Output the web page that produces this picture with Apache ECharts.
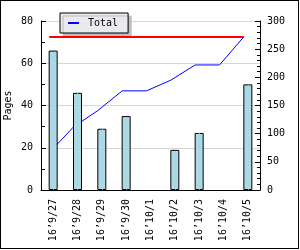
<!DOCTYPE html>
<html>
<head>
<meta charset="utf-8">
<script src="https://cdn.jsdelivr.net/npm/echarts@6/dist/echarts.min.js"></script>
<style>
html,body{margin:0;padding:0;background:#fff;}
#wrap{width:297px;height:247px;border:1px solid #000;background:#fff;}
#chart{width:297px;height:247px;}
</style>
</head>
<body>
<div id="wrap"><div id="chart"></div></div>
<script>
const categories = ["16\u20199/27","16\u20199/28","16\u20199/29","16\u20199/30","16\u201910/1","16\u201910/2","16\u201910/3","16\u201910/4","16\u201910/5"];
const pages = [66, 46, 29, 35, 0, 19, 27, 0, 50];
const total = [66, 112, 141, 176, 176, 195, 222, 222, 272];
const totalLevel = 272;
const leftTicks = [0, 20, 40, 60, 80];
const rightTicks = [0, 50, 100, 150, 200, 250, 300];

const FONT = "DejaVu Sans Mono";
const barData = pages.map(v => v === 0 ? {value: v, itemStyle: {borderWidth: 0, opacity: 0}} : v);
const centerLines = [];
pages.forEach((v, i) => { if (v > 0) centerLines.push([{coord: [i, 0]}, {coord: [i, v]}]); });

const chart = echarts.init(document.getElementById('chart'));
chart.setOption({
  animation: false,
  backgroundColor: '#fff',
  textStyle: {fontFamily: FONT, fontSize: 10, color: '#000'},
  legend: {
    left: 59, top: 12,
    data: [{name: 'Total', icon: 'rect'}],
    itemWidth: 11, itemHeight: 2, itemGap: 0,
    padding: [5, 10, 5, 8],
    backgroundColor: '#ebe8ef',
    borderColor: '#000', borderWidth: 1, borderRadius: 0,
    shadowColor: '#bdbdbd', shadowBlur: 0, shadowOffsetX: 3, shadowOffsetY: 3,
    textStyle: {fontFamily: FONT, fontSize: 10, color: '#000', padding: [0,0,0,4]}
  },
  grid: [
    {left: 40, right: 38, top: 20, bottom: 58, containLabel: false, outerBoundsMode: 'none'},
    {left: 36, right: 42, top: 20, bottom: 58, containLabel: false, outerBoundsMode: 'none'}
  ],
  xAxis: [{
    type: 'category', gridIndex: 0, data: categories,
    axisLine: {lineStyle: {color: '#000', width: 1}},
    axisTick: {inside: true, length: 6, lineStyle: {color: '#000'}},
    axisLabel: {rotate: 90, margin: 9, color: '#000', fontFamily: FONT, fontSize: 10, interval: 0}
  }, {
    type: 'category', gridIndex: 1, data: categories, show: false
  }],
  yAxis: [{
    type: 'value', gridIndex: 0, min: leftTicks[0], max: leftTicks[leftTicks.length-1], interval: 20,
    name: 'Pages', nameLocation: 'middle', nameGap: 28, nameRotate: 90, nameMoveOverlap: false,
    nameTextStyle: {fontFamily: FONT, fontSize: 10, color: '#000'},
    axisLine: {show: true, lineStyle: {color: '#000'}},
    axisTick: {show: true, inside: true, length: 5, lineStyle: {color: '#000'}},
    minorTick: {show: true, splitNumber: 2, length: 4, lineStyle: {color: '#000'}},
    splitLine: {show: true, lineStyle: {color: '#d6d6d6'}},
    axisLabel: {margin: 8, color: '#000', fontFamily: FONT, fontSize: 10}
  }, {
    type: 'value', gridIndex: 0, position: 'right', min: rightTicks[0], max: rightTicks[rightTicks.length-1], interval: 50,
    axisLine: {show: true, lineStyle: {color: '#000'}},
    axisTick: {show: true, inside: true, length: 5, lineStyle: {color: '#000'}},
    minorTick: {show: true, splitNumber: 5, length: 3, lineStyle: {color: '#000'}},
    splitLine: {show: false},
    axisLabel: {margin: 7, color: '#000', fontFamily: FONT, fontSize: 10}
  }, {
    type: 'value', gridIndex: 1, min: rightTicks[0], max: rightTicks[rightTicks.length-1], show: false
  }],
  series: [{
    name: 'Total', type: 'line', xAxisIndex: 1, yAxisIndex: 2, data: total,
    symbol: 'none', z: 1,
    itemStyle: {color: '#0000ff'},
    lineStyle: {color: '#0000ff', width: 1},
    markLine: {
      silent: true, symbol: 'none', label: {show: false},
      lineStyle: {color: '#ff0000', width: 2, type: 'solid'},
      data: [[{coord: [0, totalLevel]}, {coord: [categories.length - 1, totalLevel]}]]
    }
  }, {
    name: 'Pages', type: 'bar', xAxisIndex: 0, yAxisIndex: 0, data: barData,
    barWidth: 9, z: 3,
    itemStyle: {color: '#add8e6', borderColor: '#000', borderWidth: 1},
    markLine: {
      silent: true, symbol: 'none', label: {show: false}, z: 4,
      lineStyle: {color: '#e8a8b8', width: 1, type: [1, 3], opacity: 0.8},
      data: centerLines
    }
  }]
});
</script>
</body>
</html>
